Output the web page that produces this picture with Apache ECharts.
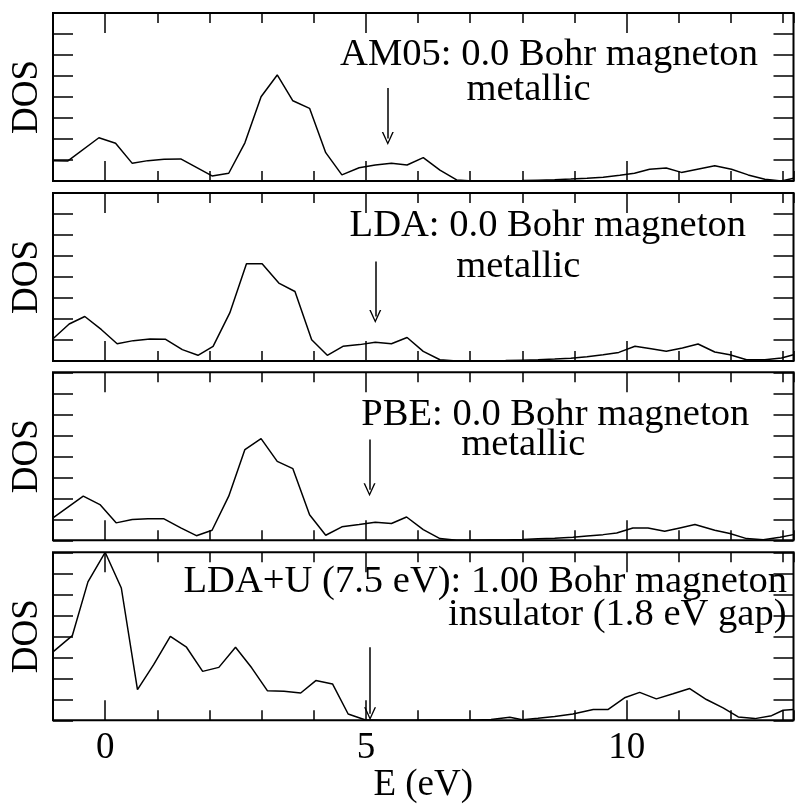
<!DOCTYPE html>
<html>
<head>
<meta charset="utf-8">
<script src="https://cdn.jsdelivr.net/npm/echarts@6/dist/echarts.min.js"></script>
<style>
  html, body { margin: 0; padding: 0; background: #fff; }
  #chart { width: 796px; height: 804px; }
</style>
</head>
<body>
<div id="chart"></div>
<script>
// energies (eV) and DOS (arbitrary units, 0..8 per panel)
const eAm05 = [-1.0, -0.72, -0.12, 0.20, 0.52, 0.82, 1.13, 1.45, 2.05, 2.37, 2.68, 2.99, 3.30, 3.60, 3.92, 4.23, 4.54, 4.87, 5.18, 5.49, 5.79, 6.10, 6.42, 6.74, 7.05, 7.37, 7.68, 8.0, 8.3, 8.62, 8.93, 9.24, 9.55, 9.87, 10.15, 10.44, 10.76, 11.05, 11.69, 12.01, 12.33, 12.65, 12.97, 13.2];
const dosAm05 = [0.97, 0.95, 2.06, 1.80, 0.84, 0.97, 1.03, 1.05, 0.24, 0.37, 1.82, 4.01, 5.05, 3.82, 3.46, 1.35, 0.29, 0.63, 0.76, 0.84, 0.76, 1.11, 0.52, 0.05, 0.0, 0.0, 0.01, 0.02, 0.04, 0.06, 0.09, 0.13, 0.18, 0.27, 0.37, 0.56, 0.62, 0.41, 0.73, 0.56, 0.29, 0.08, 0.0, 0.13];

const eLda = [-1.0, -0.69, -0.39, -0.07, 0.23, 0.54, 0.86, 1.16, 1.48, 1.78, 2.07, 2.39, 2.71, 3.01, 3.33, 3.64, 3.96, 4.26, 4.56, 4.88, 5.18, 5.49, 5.79, 6.10, 6.42, 6.74, 7.05, 7.37, 7.68, 8.0, 8.3, 8.62, 8.93, 9.24, 9.55, 9.85, 10.16, 10.47, 10.76, 11.07, 11.37, 11.69, 11.98, 12.3, 12.65, 12.97, 13.2];
const dosLda = [1.06, 1.76, 2.12, 1.49, 0.82, 0.97, 1.05, 1.03, 0.54, 0.27, 0.70, 2.29, 4.63, 4.63, 3.71, 3.31, 1.01, 0.27, 0.70, 0.78, 0.89, 0.82, 1.12, 0.46, 0.06, 0.0, 0.0, 0.01, 0.02, 0.04, 0.06, 0.09, 0.13, 0.2, 0.3, 0.41, 0.70, 0.58, 0.46, 0.62, 0.81, 0.43, 0.30, 0.06, 0.06, 0.14, 0.3];

const ePbe = [-1.0, -0.42, -0.10, 0.21, 0.52, 0.82, 1.12, 1.45, 1.75, 2.05, 2.37, 2.68, 2.99, 3.30, 3.60, 3.92, 4.23, 4.54, 4.87, 5.18, 5.49, 5.78, 6.10, 6.42, 6.74, 7.05, 7.37, 7.68, 8.0, 8.3, 8.62, 8.97, 9.24, 9.55, 9.81, 10.12, 10.41, 10.73, 11.02, 11.31, 11.69, 11.98, 12.3, 12.62, 12.94, 13.2];
const dosPbe = [1.07, 2.1, 1.7, 0.83, 0.99, 1.03, 1.03, 0.59, 0.22, 0.48, 2.1, 4.32, 4.84, 3.76, 3.41, 1.22, 0.24, 0.64, 0.75, 0.86, 0.80, 1.11, 0.51, 0.08, 0.0, 0.0, 0.01, 0.02, 0.04, 0.07, 0.1, 0.14, 0.2, 0.27, 0.35, 0.59, 0.59, 0.43, 0.59, 0.75, 0.48, 0.32, 0.08, 0.03, 0.14, 0.27];

const eLdaU = [-1.0, -0.63, -0.33, 0.0, 0.31, 0.62, 0.93, 1.25, 1.56, 1.87, 2.18, 2.50, 2.81, 3.11, 3.43, 3.75, 4.04, 4.36, 4.66, 4.98, 5.3, 5.6, 5.9, 6.2, 6.5, 6.8, 7.1, 7.4, 7.76, 8.0, 8.3, 8.62, 8.97, 9.36, 9.64, 9.96, 10.25, 10.57, 10.89, 11.21, 11.53, 11.85, 12.14, 12.46, 12.78, 13.0, 13.2];
const dosLdaU = [3.26, 4.03, 6.59, 8.0, 6.30, 1.46, 2.65, 4.0, 3.48, 2.33, 2.52, 3.48, 2.5, 1.41, 1.38, 1.30, 1.89, 1.73, 0.30, 0.03, 0.0, 0.0, 0.0, 0.01, 0.01, 0.02, 0.02, 0.04, 0.14, 0.03, 0.1, 0.18, 0.30, 0.51, 0.51, 1.07, 1.33, 1.02, 1.26, 1.51, 0.99, 0.59, 0.16, 0.08, 0.22, 0.48, 0.51];

// annotation text and the arrows marking the Fermi level
const line1 = ['AM05: 0.0 Bohr magneton', 'LDA: 0.0 Bohr magneton', 'PBE: 0.0 Bohr magneton', 'LDA+U (7.5 eV): 1.00 Bohr magneton'];
const line2 = ['metallic', 'metallic', 'metallic', 'insulator (1.8 eV gap)'];
const arrowE = [5.42, 5.18, 5.07, 5.08];
const arrowTop = [4.43, 4.74, 4.8, 3.48];
const arrowBottom = [1.71, 1.81, 2.1, 0.0];

const majorTicks = [0, 5, 10];

const energies = [eAm05, eLda, ePbe, eLdaU];
const dos = [dosAm05, dosLda, dosPbe, dosLdaU];

const FONT = 'Liberation Serif';
const FS = 37;
const FS_NOTE = 38.6;
const tops = [13, 193, 372.3, 552.3];
const H = 168;
// text centers (x) and vertical middles (y) per panel
const txt1 = [[549, 55], [547.8, 226], [555.3, 415], [485.3, 581.7]];
const txt2 = [[528.5, 90], [518.3, 266.7], [523.3, 444.5], [617.3, 615]];

const arrowHead = 'path://M0,0 L-6,13 L-4.5,13 L0,3 L4.5,13 L6,13 Z';
const headHalf = 6.5 / (H / 8);  // symbol is centred on the line end

const chart = echarts.init(document.getElementById('chart'));

const grid = [], xAxis = [], yAxis = [], series = [], graphic = [];

for (let i = 0; i < 4; i++) {
  grid.push({
    left: 53, top: tops[i], width: 740.5, height: H,
    containLabel: false, outerBoundsMode: 'none',
    show: true, borderColor: '#000', borderWidth: 2, backgroundColor: 'transparent'
  });
  const base = {
    gridIndex: i, type: 'value', min: -1, max: 13.2,
    axisLine: { show: false, onZero: false }, splitLine: { show: false },
    axisLabel: { show: false }
  };
  ['bottom', 'top'].forEach(pos => {
    // minor ticks every 1 eV
    xAxis.push(Object.assign({}, base, {
      position: pos, interval: 1,
      axisTick: { show: true, inside: true, length: 10, lineStyle: { color: '#000', width: 1.5 } }
    }));
    // major ticks at 0, 5, 10
    const major = Object.assign({}, base, {
      position: pos, interval: 1,
      axisTick: { show: true, inside: true, length: 20, customValues: majorTicks, lineStyle: { color: '#000', width: 1.5 } }
    });
    if (pos === 'bottom' && i === 3) {
      major.axisLabel = {
        show: true, customValues: majorTicks, margin: 9,
        color: '#000', fontFamily: FONT, fontSize: FS
      };
      major.name = 'E (eV)';
      major.nameLocation = 'middle';
      major.nameGap = 46;
      major.nameTextStyle = { color: '#000', fontFamily: FONT, fontSize: FS };
    }
    xAxis.push(major);
  });
  ['left', 'right'].forEach(pos => {
    yAxis.push({
      gridIndex: i, type: 'value', min: 0, max: 8, interval: 1, position: pos,
      axisLine: { show: false, onZero: false }, splitLine: { show: false },
      axisLabel: { show: false },
      axisTick: { show: true, inside: true, length: 20, lineStyle: { color: '#000', width: 1.5 } },
      name: pos === 'left' ? 'DOS' : '',
      nameLocation: 'middle', nameGap: 7, nameRotate: 90,
      nameTextStyle: { color: '#000', fontFamily: FONT, fontSize: FS }
    });
  });
  series.push({
    type: 'line',
    xAxisIndex: i * 4,
    yAxisIndex: i * 2,
    data: energies[i].map((e, k) => [e, dos[i][k]]),
    showSymbol: false,
    lineStyle: { color: '#000', width: 1.5 },
    animation: false,
    markLine: {
      silent: true,
      animation: false,
      symbol: ['none', arrowHead],
      symbolSize: [12, 13],
      label: { show: false },
      lineStyle: { color: '#000', width: 1.5, type: 'solid' },
      itemStyle: { color: '#000' },
      data: [[{ coord: [arrowE[i], arrowTop[i]] }, { coord: [arrowE[i], arrowBottom[i] + headHalf] }]]
    }
  });
  graphic.push({
    type: 'text', x: txt1[i][0], y: txt1[i][1], z: 10,
    style: { text: line1[i], fill: '#000', font: FS_NOTE + 'px "' + FONT + '"', align: 'center', verticalAlign: 'middle' }
  });
  graphic.push({
    type: 'text', x: txt2[i][0], y: txt2[i][1], z: 10,
    style: { text: line2[i], fill: '#000', font: FS_NOTE + 'px "' + FONT + '"', align: 'center', verticalAlign: 'middle' }
  });
}

chart.setOption({
  animation: false,
  backgroundColor: '#fff',
  grid: grid,
  xAxis: xAxis,
  yAxis: yAxis,
  series: series,
  graphic: graphic
});

window.addEventListener('resize', () => chart.resize());
</script>
</body>
</html>
